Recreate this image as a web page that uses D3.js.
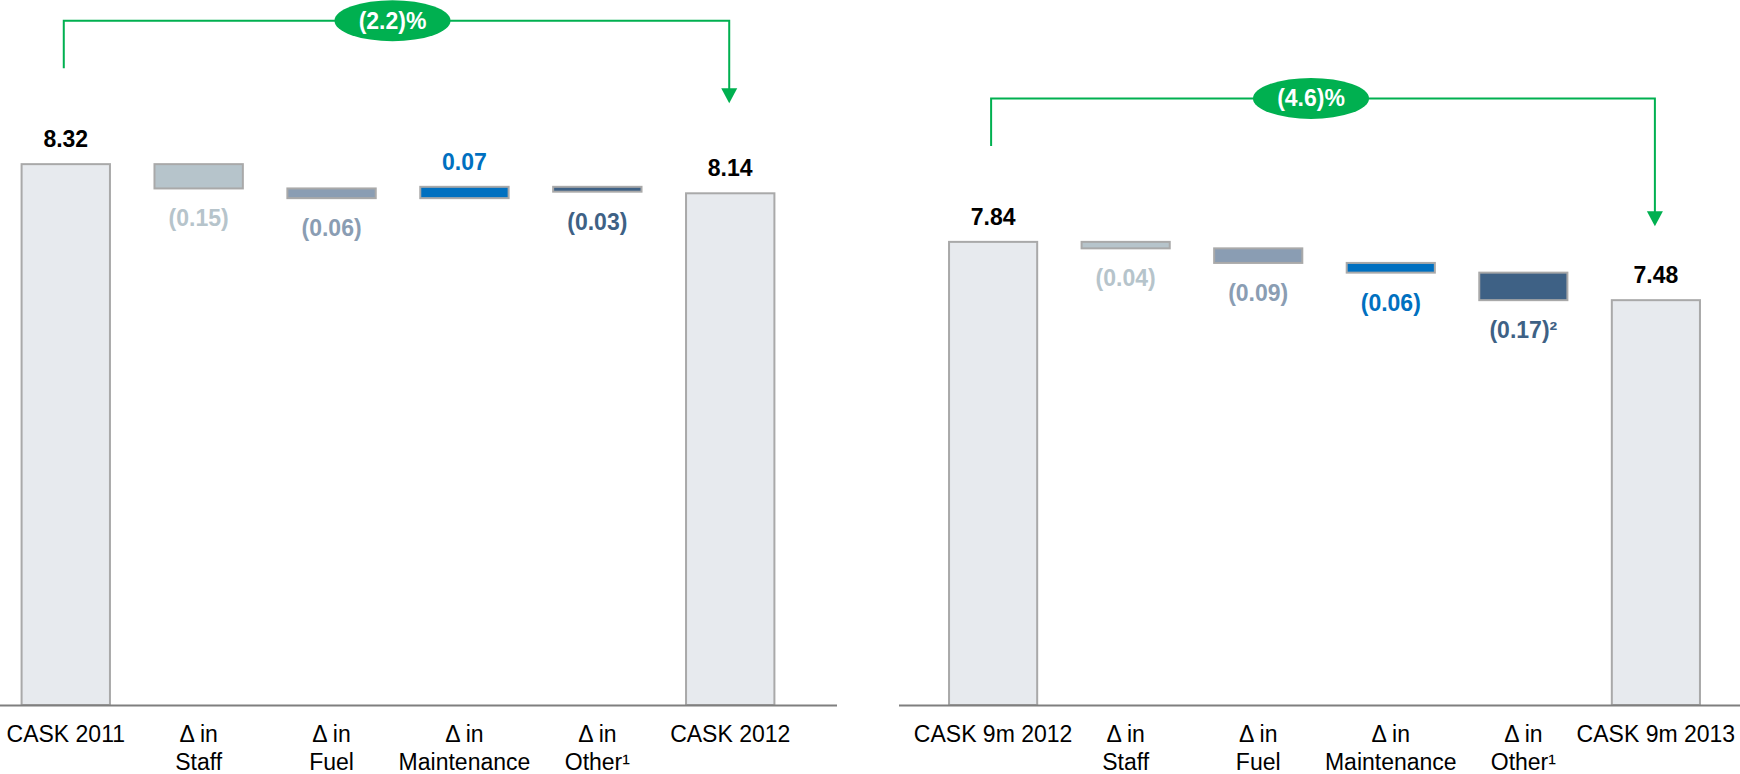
<!DOCTYPE html>
<html>
<head>
<meta charset="utf-8">
<script src="https://cdn.jsdelivr.net/npm/d3@7"></script>
<style>
  html, body { margin: 0; padding: 0; background: #ffffff; }
  svg { display: block; font-family: "Liberation Sans", Arial, sans-serif; }
</style>
</head>
<body>
<svg id="chart" width="1740" height="774"></svg>
<script>
// ---------- data ----------
const leftCategories = ["CASK 2011", "Δ in\nStaff", "Δ in\nFuel", "Δ in\nMaintenance", "Δ in\nOther¹", "CASK 2012"];
const leftValues = [8.32, -0.15, -0.06, 0.07, -0.03, 8.14];
const leftLabels = ["8.32", "(0.15)", "(0.06)", "0.07", "(0.03)", "8.14"];
const leftChange = "(2.2)%";

const rightCategories = ["CASK 9m 2012", "Δ in\nStaff", "Δ in\nFuel", "Δ in\nMaintenance", "Δ in\nOther¹", "CASK 9m 2013"];
const rightValues = [7.84, -0.04, -0.09, -0.06, -0.17, 7.48];
const rightLabels = ["7.84", "(0.04)", "(0.09)", "(0.06)", "(0.17)²", "7.48"];
const rightChange = "(4.6)%";

const kinds = ["total", "staff", "fuel", "maintenance", "other", "total"];

// ---------- style ----------
const fills = { total: "#e7eaee", staff: "#b6c4cb", fuel: "#8a9db3", maintenance: "#0070c0", other: "#3e6185" };
const labelColors = { total: "#000000", staff: "#b6c4cb", fuel: "#8a9db3", maintenance: "#0070c0", other: "#3e6185" };
const green = "#00b050";

const svg = d3.select("#chart");
const y = d3.scaleLinear().domain([4.98, 8.5]).range([705, 135]);

const charts = [
  { cats: leftCategories, vals: leftValues, labels: leftLabels, change: leftChange,
    range: [-1, 797], axis: [0, 837], arrowGap: 90, ellipseDx: -4 },
  { cats: rightCategories, vals: rightValues, labels: rightLabels, change: rightChange,
    range: [926.5, 1722.5], axis: [899, 1740], arrowGap: 74, ellipseDx: -12 }
];

charts.forEach(ch => {
  const g = svg.append("g");
  const x = d3.scaleBand().domain(ch.cats).range(ch.range).paddingInner(0.335).paddingOuter(0.17);

  // waterfall segments
  let running = 0;
  const segs = ch.vals.map((v, i) => {
    const kind = kinds[i];
    let lo, hi;
    if (kind === "total") { lo = y.domain()[0]; hi = v; running = v; }
    else { const s = running, e = running + v; lo = Math.min(s, e); hi = Math.max(s, e); running = e; }
    return { cat: ch.cats[i], v, kind, lo, hi, label: ch.labels[i] };
  });

  g.selectAll("rect.bar").data(segs).join("rect")
    .attr("class", "bar")
    .attr("x", d => x(d.cat))
    .attr("width", x.bandwidth())
    .attr("y", d => y(d.hi))
    .attr("height", d => Math.max(1, y(d.lo) - y(d.hi)))
    .attr("fill", d => fills[d.kind])
    .attr("stroke", "#a9a9a9")
    .attr("stroke-width", 2);

  // value labels
  g.selectAll("text.val").data(segs).join("text")
    .attr("class", "val")
    .attr("x", d => x(d.cat) + x.bandwidth() / 2)
    .attr("y", d => (d.kind === "total" || d.v > 0) ? y(d.hi) - 17 : y(d.lo) + 38)
    .attr("text-anchor", "middle")
    .attr("font-size", 23)
    .attr("font-weight", "bold")
    .attr("fill", d => labelColors[d.kind])
    .text(d => d.label);

  // axis
  const axis = d3.axisBottom(x).tickSize(0).tickFormat("");
  const ag = g.append("g").attr("transform", "translate(0,705.5)").call(axis);
  ag.select(".domain").remove();
  ag.selectAll(".tick text").remove();
  ag.selectAll(".tick").each(function(d) {
    const t = d3.select(this).append("text")
      .attr("text-anchor", "middle")
      .attr("font-size", 23)
      .attr("fill", "#000")
      .attr("y", 36.5);
    d.split("\n").forEach((line, i) => {
      t.append("tspan").attr("x", 0).attr("dy", i === 0 ? 0 : 27.5).text(line);
    });
  });
  g.append("line")
    .attr("x1", ch.axis[0]).attr("x2", ch.axis[1])
    .attr("y1", 705.5).attr("y2", 705.5)
    .attr("stroke", "#7f7f7f").attr("stroke-width", 2);

  // change bracket
  const first = segs[0], last = segs[segs.length - 1];
  const x1 = x(first.cat) + x.bandwidth() / 2 - 2;
  const x2 = x(last.cat) + x.bandwidth() / 2 - 1;
  const yTop = y(first.hi) - 143.5;
  const yStart = y(first.hi) - 96;
  const tipY = y(last.hi) - ch.arrowGap;
  g.append("path")
    .attr("d", `M${x1},${yStart} V${yTop} H${x2} V${tipY - 14}`)
    .attr("fill", "none").attr("stroke", green).attr("stroke-width", 2);
  g.append("path")
    .attr("d", `M${x2 - 8},${tipY - 15} L${x2 + 8},${tipY - 15} L${x2},${tipY} Z`)
    .attr("fill", green);
  const cx = (x1 + x2) / 2 + ch.ellipseDx;
  g.append("ellipse")
    .attr("cx", cx).attr("cy", yTop)
    .attr("rx", 58).attr("ry", 20.5)
    .attr("fill", green);
  g.append("text")
    .attr("x", cx).attr("y", yTop + 8)
    .attr("text-anchor", "middle")
    .attr("font-size", 23).attr("font-weight", "bold")
    .attr("fill", "#fff")
    .text(ch.change);
});
</script>
</body>
</html>
